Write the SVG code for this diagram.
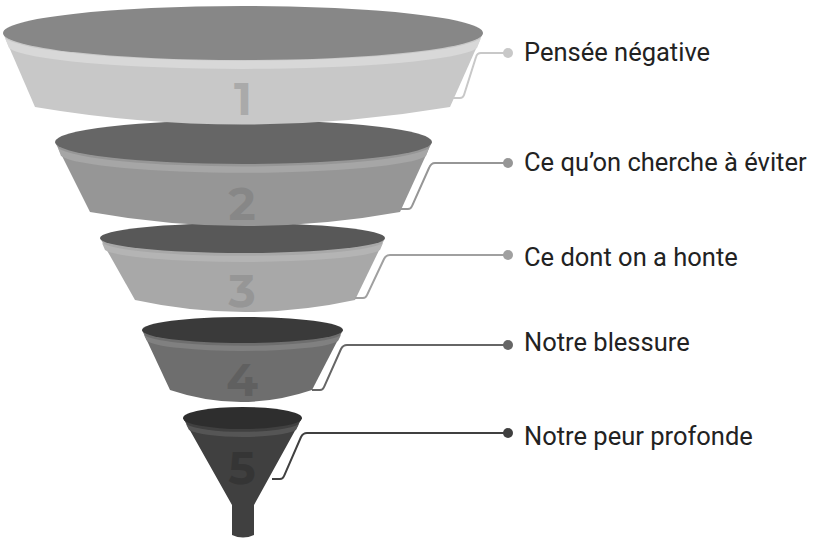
<svg xmlns="http://www.w3.org/2000/svg" width="825" height="545" viewBox="0 0 825 545">
<style>
.num{font-family:"Montserrat","Open Sans",sans-serif;font-weight:700;font-size:46px;text-anchor:middle}
.lbl{font-family:Roboto,"Liberation Sans",sans-serif;font-size:25.5px;fill:#222}
.con{fill:none;stroke-width:2}
</style>
<rect width="825" height="545" fill="#fff"/>
<g id="tier5">
<path d="M183,418 L232,505 L232,535 Q243,540 254,535 L254,505 L302,418 Z" fill="#404040"/>
<path d="M186,424 A59,11 0 0 0 299,424 L296,430 A56,10 0 0 1 189,430 Z" fill="#555"/>
<ellipse cx="242.5" cy="418" rx="59.5" ry="11" fill="#2e2e2e"/>
<text class="num" x="242" y="484" fill="#353535">5</text>
</g>
<g id="tier4">
<path d="M142,330 L170,390 Q241,414 312,390 L343,330 Z" fill="#6e6e6e"/>
<path d="M144,335 A100,13 0 0 0 341,335 L338,341 A97,12 0 0 1 147,341 Z" fill="#808080"/>
<ellipse cx="242.5" cy="330" rx="100.5" ry="13" fill="#3a3a3a"/>
<text class="num" x="242" y="396" fill="#606060">4</text>
</g>
<g id="tier3">
<path d="M100,238 L135,300 Q245,324 355,300 L385,238 Z" fill="#a8a8a8"/>
<path d="M102,243 A142,15 0 0 0 383,243 L380,250 A139,14 0 0 1 105,250 Z" fill="#b4b4b4"/>
<ellipse cx="242.5" cy="238" rx="142.5" ry="15" fill="#585858"/>
<text class="num" x="242" y="307" fill="#969696">3</text>
</g>
<g id="tier2">
<path d="M55,142 L90,212 Q245,240 400,212 L432,142 Z" fill="#969696"/>
<path d="M58,148 A188,22 0 0 0 429,148 L426,156 A185,20 0 0 1 61,156 Z" fill="#a6a6a6"/>
<ellipse cx="243.5" cy="142" rx="188.5" ry="22" fill="#666"/>
<text class="num" x="242" y="220" fill="#878787">2</text>
</g>
<g id="tier1">
<path d="M3,33 L35,107 Q242,142 450,107 L483,33 Z" fill="#c8c8c8"/>
<path d="M5,38 A240,26 0 0 0 481,38 L477,48 A236,24 0 0 1 9,48 Z" fill="#d8d8d8"/>
<ellipse cx="243" cy="33" rx="240" ry="27" fill="#878787"/>
<text class="num" x="243" y="115" fill="#aaaaaa">1</text>
</g>
<g id="connectors">
<path class="con" stroke="#c8c8c8" d="M450,98 H460 Q463,98 464,95 L476,57 Q477,53 481,53 H508"/>
<circle cx="508" cy="53" r="5" fill="#c8c8c8"/>
<path class="con" stroke="#969696" d="M400,209 H408 Q411,209 412,206 L429,168 Q431,163 435,163 H508"/>
<circle cx="508" cy="163" r="5" fill="#969696"/>
<path class="con" stroke="#a0a0a0" d="M355,298 H363 Q366,298 367,295 L384,259 Q386,255 390,255 H508"/>
<circle cx="508" cy="255" r="5" fill="#a0a0a0"/>
<path class="con" stroke="#666" d="M312,390 H320 Q323,390 324,387 L341,349 Q343,345 347,345 H508"/>
<circle cx="508" cy="345" r="5" fill="#666"/>
<path class="con" stroke="#404040" d="M272,479 H280 Q283,479 284,476 L301,437 Q303,433 307,433 H508"/>
<circle cx="508" cy="433" r="5" fill="#404040"/>
</g>
<g id="labels">
<text class="lbl" x="524" y="61">Pensée négative</text>
<text class="lbl" x="524" y="171">Ce qu’on cherche à éviter</text>
<text class="lbl" x="524" y="266">Ce dont on a honte</text>
<text class="lbl" x="524" y="351">Notre blessure</text>
<text class="lbl" x="524" y="445">Notre peur profonde</text>
</g>
</svg>
